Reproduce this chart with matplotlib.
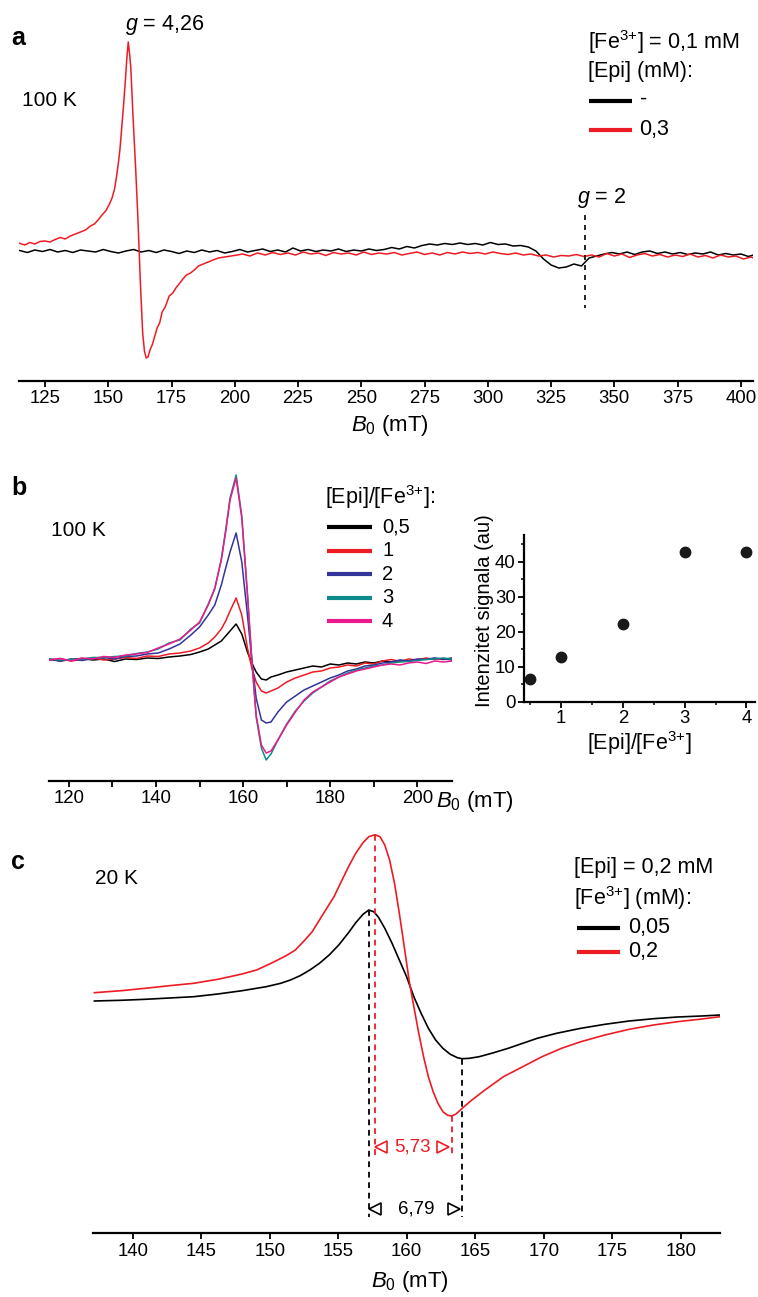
import matplotlib
matplotlib.use("Agg")
import matplotlib.pyplot as plt
from matplotlib.lines import Line2D
from matplotlib.ticker import MultipleLocator

plt.rcParams['font.family'] = ['Liberation Sans', 'DejaVu Sans']
plt.rcParams['mathtext.fontset'] = 'custom'
plt.rcParams['mathtext.rm'] = 'Liberation Sans'
plt.rcParams['mathtext.it'] = 'Liberation Sans:italic'
plt.rcParams['mathtext.bf'] = 'Liberation Sans:bold'

W, H = 758, 1297
RED = '#ed1c24'
BLUE = '#33349a'
TEAL = '#0e8a8c'
MAGENTA = '#ec1a8c'
FE3 = r'[Fe$^{3{+}}$]'

# ---------------- panel a : 100 K, [Fe3+] = 0,1 mM ----------------
field_a_black = [115, 118, 121, 124, 127, 130, 133, 136, 139, 142, 145, 148, 151, 154, 157, 160,
                 163, 166, 169, 172, 175, 178, 181, 184, 187, 190, 193, 196, 199, 202, 205, 208,
                 211, 214, 217, 220, 223, 226, 229, 232, 235, 238, 241, 244, 247, 250, 253, 256,
                 259, 262, 265, 268, 271, 274, 277, 280, 283, 286, 289, 292, 295, 298, 301, 304,
                 307, 310, 313, 316, 319, 322, 325, 328, 331, 334, 337, 340, 343, 346, 349, 352,
                 355, 358, 361, 364, 367, 370, 373, 376, 379, 382, 385, 388, 391, 394, 397, 400,
                 403, 405]
signal_a_black = [0.5, -1.5, 1, -0.5, 1.5, -1, 0.5, -1.5, 1, 0, -1, 1.5, -0.5, -2, 0, 1.5,
                  -1, 0.5, -1.5, 1, -0.5, -2.5, 0, -1.5, 1, -1, 0.5, -2, -0.5, 1.5, -1, 0.5,
                  2, -0.5, 1, -1, 3, 0, 1.5, -0.5, 1, 0, 2, -0.5, 1, 0, 2, 0.5,
                  1.5, 3.5, 2, 4.5, 3, 5.5, 7, 6, 7.5, 6.5, 8, 6.5, 7.5, 6, 8.5, 6.5,
                  7, 5, 5.5, 4, 0, -8, -14, -17, -16, -13, -15, -7, -5, -3, -1.5, -3,
                  -1, -3.5, -1, 0, -2.5, -1, -3, -1.5, -3.5, -2, -3, -1, -4, -2.5, -4, -3,
                  -5.5, -4]

field_a_red = [115, 117, 119, 121, 123, 125, 127, 129, 131, 133, 135, 137, 139, 141, 143, 144.5,
               146, 147.5, 149, 150.5, 151.5, 152.5, 153.3, 154, 154.6, 155.3, 156, 156.7, 157.3,
               157.9, 158.4, 158.9, 159.8, 160.8, 161.7, 162.7, 163.6, 164.3, 165.0, 165.7, 166.5,
               167.5, 168.4, 169.3, 170.3, 171.3, 172.5, 174.1, 175.5, 177, 178, 179.5, 180.9,
               182.5, 184, 185.6, 187.5, 189.5, 191.4, 193.5, 196, 198.5, 201,
               203, 206, 209, 212, 215, 218, 221, 224, 227, 230, 233, 236, 239, 242, 245, 248,
               251, 254, 257, 260, 263, 266, 269, 272, 275, 278, 281, 284, 287, 290, 293, 296,
               299, 302, 305, 308, 311, 314, 317, 320, 323, 326, 329, 332, 335, 338, 341, 344,
               347, 350, 353, 356, 359, 362, 365, 368, 371, 374, 377, 380, 383, 386, 389, 392,
               395, 398, 401, 404, 405]
signal_a_red = [7.7, 6, 8.5, 7, 9.5, 10, 9, 11.5, 13.5, 12, 15, 17, 19, 21, 25, 27,
                31, 36, 40, 47, 53, 62, 75, 88, 101, 122, 144, 168, 191,
                209, 198, 184, 134, 84, 34, -32, -82, -100, -107, -106, -99,
                -93, -85, -77, -72, -61, -56, -45, -42, -36, -33, -28, -24,
                -22, -19, -15, -13, -11, -9, -7, -6, -5, -4,
                -3, -5, -2, -4, -1.5, -3.5, -2, -4, -1, -3, -2, -4.5, -1.5, -3, -2, -4,
                -1, -3.5, -2, -3, -1.5, -4, -2.5, -1, -3.5, -2, -4, -1.5, -3, -1, -2.5, -1.5,
                -3, -1, -2.5, -3.5, -2, -4, -3, -5, -4, -6, -4.5, -5, -3.5, -5.5, -4, -6,
                -2.5, -5, -3, -6.5, -4, -2.5, -5, -3.5, -6, -4, -5.5, -3, -6, -4.5, -7, -4,
                -6, -5, -8, -6, -7]
g2_field = 338.2

# ---------------- panel b : 100 K, [Epi]/[Fe3+] series ----------------
field_b = [115.5, 118, 120.5, 123, 125.5, 128, 130.5, 133, 135.5, 138,
           140.5, 143, 145.5, 148, 150, 152, 153.5, 155, 156, 157,
           158.4, 159.7, 161, 162, 163, 164.2, 165.3, 166.4, 168, 170,
           172, 174, 176, 178, 180, 182, 184, 186, 188, 190,
           192, 194, 196, 198, 200, 202, 204, 206, 208]
ratio_labels = ['0,5', '1', '2', '3', '4']
signal_b = {
    '0,5': [1, -1, 0.5, 1.5, 0, 1, -1.5, 1, 0.5, 2,
            1.5, 3, 4, 5.5, 8, 11, 15, 19, 24, 29,
            36, 26, 8, -3, -12, -19, -20, -17, -15, -12,
            -10, -8, -6, -7, -4, -5, -3, -4, -2, -3,
            -1, -2, -0.5, -1, 0.5, 1, 1.5, 0.5, 2],
    '1': [0, 1.5, -1, 0.5, 2, 0, 1, 2.5, 1.5, 4,
          3.5, 6, 7, 9, 12, 17, 23, 31, 39, 49,
          62, 45, 12, -8, -22, -31, -33, -31, -28, -22,
          -18, -15, -12, -11, -8, -7, -5, -6, -3, -4,
          -1, 0.5, -1.5, 1, 0, 2, 0.5, 1.5, 0],
    '2': [0.5, -1, 1, -0.5, 1.5, 2.5, 1, 3.5, 4, 6,
          7, 11, 16, 25, 33, 45, 55, 75, 92, 108,
          127, 98, 45, 0, -38, -60, -63, -62, -52, -42,
          -36, -30, -26, -22, -18, -15, -11, -9, -6, -5,
          -3, -2, 0, -1, 1, 0.5, 2, 1, 0.5],
    '3': [1, 0, 0.5, 1, 2.5, 2.5, 3.5, 4, 6.5, 8,
          11, 17, 20, 31, 37, 56, 71, 101, 130, 162,
          185, 144, 66, 0, -57, -88, -100, -94, -80, -64,
          -51, -41, -33, -27, -21, -17, -13, -10, -8, -6,
          -5, -3, -2, -1.5, -0.5, 0.5, 1, 2, 1],
    '4': [0, 1.5, -1, 2, 1, 3.5, 2.5, 5, 6, 7.5,
          12, 16, 21, 30, 38, 55, 72, 100, 128, 160,
          182, 142, 65, 0, -55, -85, -93, -91, -80, -65,
          -52, -40, -32, -27, -22, -17, -14, -11, -9, -7,
          -5, -4, -5, -3, -2, -3.5, -1, -2, -1],
}
ratio_colors = ['black', RED, BLUE, TEAL, MAGENTA]

# inset: signal intensity vs ratio
ratio = [0.5, 1, 2, 3, 4]
intensity = [6.5, 12.9, 22.2, 42.8, 42.8]

# ---------------- panel c : 20 K, [Epi] = 0,2 mM ----------------
field_c_black = [137.2, 139.15, 140.91, 142.68, 144.45, 146.21, 147.98, 149.74, 150.8, 151.51,
                 152.22, 152.93, 153.63, 154.34, 155.04, 155.75, 156.28, 156.81, 157.23, 157.59,
                 157.94, 158.4, 158.93, 159.46, 159.99, 160.52, 161.05, 161.58, 162.11, 162.64,
                 163.18, 163.7, 164.05, 164.58, 165.29, 166.35, 167.41, 168.47, 169.53, 170.94,
                 172.71, 174.47, 176.24, 178.01, 179.77, 181.54, 182.88]
signal_c_black = [-1, -0.3, 0.7, 2, 3.3, 6, 9.3, 13.3, 16.7, 20,
                  24.3, 30, 36.7, 45, 55, 67.3, 77.3, 85.7, 90, 88.3,
                  82.7, 71.7, 56.7, 40, 23.3, 3.3, -13.3, -28.3, -40, -48.3,
                  -54.3, -57.7, -58.7, -58.3, -56.7, -52.7, -48.3, -43.3, -38.3, -33.3,
                  -28.3, -24.3, -21, -18.7, -17, -16, -15]
field_c_red = [137.2, 139.15, 140.91, 142.68, 144.45, 146.21, 147.98, 149.04, 150.1, 151.16,
               151.87, 152.57, 153.1, 153.63, 154.16, 154.69, 155.22, 155.75, 156.28, 156.81,
               157.23, 157.69, 158.05, 158.4, 158.75, 159.11, 159.46, 159.82, 160.17, 160.52,
               160.88, 161.23, 161.58, 161.93, 162.28, 162.64, 162.99, 163.28, 163.6, 164.05,
               164.76, 165.64, 167.06, 168.47, 169.88, 171.3, 172.71, 174.47, 176.24, 178.01,
               179.77, 181.54, 182.88]
signal_c_red = [7.3, 9.3, 11.7, 14.3, 16.7, 20.7, 26, 30, 36.7, 44,
                50, 60, 68.3, 80, 91.7, 103.3, 118.3, 133.3, 146.7, 157.3,
                163.3, 165.3, 163.3, 155, 140, 116.7, 86.7, 53.3, 20, -6.7,
                -33.3, -56.7, -76.7, -91.7, -103.3, -111.7, -115.3, -116, -114, -108.3,
                -100, -90.7, -76.7, -66.7, -56.7, -48.3, -41.7, -35, -29.3, -25,
                -21.7, -19, -16.7]
peaks_black = (157.27, 164.06, 90, -58.7)   # field of max, field of min, max, min
peaks_red = (157.69, 163.28, 165.3, -116)
width_black = '6,79'
width_red = '5,73'


def fig_xy(x, y):
    return x / W, 1 - y / H


def add_axes_px(fig, x0, y0, x1, y1):
    return fig.add_axes([x0 / W, 1 - y1 / H, (x1 - x0) / W, (y1 - y0) / H])


def spectrum_axis(ax):
    for side in ('left', 'right', 'top'):
        ax.spines[side].set_visible(False)
    ax.spines['bottom'].set_linewidth(1.6)
    ax.set_yticks([])
    ax.tick_params(axis='x', which='both', direction='out', length=4, width=1.3,
                   labelsize=13.4, pad=3)
    ax.patch.set_alpha(0)


def label(fig, x, y, s, size=15, **kw):
    kw.setdefault('ha', 'left')
    kw.setdefault('va', 'center')
    fig.text(*fig_xy(x, y), s, fontsize=size, **kw)


def legend_line(fig, x0, x1, y, color):
    fig.add_artist(Line2D([x0 / W, x1 / W], [1 - y / H] * 2, color=color, lw=3,
                          solid_capstyle='butt'))


fig = plt.figure(figsize=(W / 100, H / 100), dpi=100)

# panel a
ax_a = add_axes_px(fig, 19.3, 25, 753.3, 380.7)
ax_a.plot(field_a_black, signal_a_black, color='black', lw=1.1)
ax_a.plot(field_a_red, signal_a_red, color=RED, lw=1.1)
ax_a.plot([g2_field, g2_field], [36, -57], color='black', lw=1.2, ls=(0, (3, 3)))
ax_a.set_xlim(114.85, 404.9)
ax_a.set_ylim(-129.7, 226)
ax_a.set_xticks([125, 150, 175, 200, 225, 250, 275, 300, 325, 350, 375, 400])
spectrum_axis(ax_a)

label(fig, 11, 38, 'a', size=18, weight='bold')
label(fig, 125, 25, r'$g$ = 4,26', size=15.5)
label(fig, 22, 100, '100 K')
label(fig, 577, 198, r'$g$ = 2', size=15.5)
label(fig, 588, 42, FE3 + ' = 0,1 mM', size=15.5)
label(fig, 588, 72, '[Epi] (mM):', size=15.5)
legend_line(fig, 589, 632, 101, 'black')
label(fig, 640, 99, '-', size=15.5)
legend_line(fig, 589, 632, 130, RED)
label(fig, 639, 130, '0,3', size=15.5)
label(fig, 390, 425, r'$B_0$ (mT)', size=16, ha='center')

# panel b
ax_b = add_axes_px(fig, 49.3, 465, 451.7, 780.7)
for name, color in zip(ratio_labels, ratio_colors):
    ax_b.plot(field_b, signal_b[name], color=color, lw=1.1)
ax_b.set_xlim(115.5, 207.9)
ax_b.set_ylim(-120.7, 195)
ax_b.set_xticks([120, 140, 160, 180, 200])
ax_b.xaxis.set_minor_locator(MultipleLocator(10))
spectrum_axis(ax_b)

label(fig, 11, 488, 'b', size=18, weight='bold')
label(fig, 51, 531, '100 K')
label(fig, 325, 497, '[Epi]/' + FE3 + ':', size=15.5)
for i, (name, color) in enumerate(zip(ratio_labels, ratio_colors)):
    y = 527 + i * 23.6
    legend_line(fig, 327, 372, y, color)
    label(fig, 382, y, name, size=14.5)
label(fig, 436, 802, r'$B_0$ (mT)', size=16)

ax_in = add_axes_px(fig, 524.2, 535, 755, 701.7)
ax_in.plot(ratio, intensity, 'o', color='#1a1a1a', ms=7.5, clip_on=False)
ax_in.set_xlim(0.4, 4.14)
ax_in.set_ylim(0, 47.6)
ax_in.set_xticks([1, 2, 3, 4])
ax_in.set_yticks([0, 10, 20, 30, 40])
ax_in.xaxis.set_minor_locator(MultipleLocator(0.5))
ax_in.yaxis.set_minor_locator(MultipleLocator(5))
for side in ('right', 'top'):
    ax_in.spines[side].set_visible(False)
for side in ('left', 'bottom'):
    ax_in.spines[side].set_linewidth(1.6)
ax_in.tick_params(which='major', direction='out', length=4, width=1.3, labelsize=13.4, pad=2)
ax_in.tick_params(which='minor', direction='out', length=2.5, width=1.1)
ax_in.patch.set_alpha(0)
label(fig, 485, 611, 'Intenzitet signala (au)', size=14.5, rotation=90, ha='center')
label(fig, 639, 743, '[Epi]/' + FE3, size=15.5, ha='center')

# panel c
ax_c = add_axes_px(fig, 93.3, 825, 720, 1233.3)
ax_c.plot(field_c_black, signal_c_black, color='black', lw=1.2)
ax_c.plot(field_c_red, signal_c_red, color=RED, lw=1.2)
dash = (0, (3.2, 2.6))
bx_max, bx_min, by_max, by_min = peaks_black
rx_max, rx_min, ry_max, ry_min = peaks_red
ax_c.plot([bx_max, bx_max], [by_max, -216.7], color='black', lw=1.3, ls=dash)
ax_c.plot([bx_min, bx_min], [by_min, -216.7], color='black', lw=1.3, ls=dash)
ax_c.plot([rx_max, rx_max], [ry_max, -156], color=RED, lw=1.3, ls=dash)
ax_c.plot([rx_min, rx_min], [ry_min, -156], color=RED, lw=1.3, ls=dash)
ax_c.plot([rx_max + 0.42], [-147], marker='<', ms=8, mfc='none', mec=RED, mew=1.2)
ax_c.plot([rx_min - 0.62], [-147], marker='>', ms=8, mfc='none', mec=RED, mew=1.2)
ax_c.plot([bx_max + 0.45], [-209], marker='<', ms=8, mfc='none', mec='black', mew=1.2)
ax_c.plot([bx_min - 0.6], [-209], marker='>', ms=8, mfc='none', mec='black', mew=1.2)
ax_c.text((rx_max + rx_min) / 2 - 0.1, -147, width_red, color=RED, fontsize=13.5,
          ha='center', va='center')
ax_c.text((bx_max + bx_min) / 2 + 0.05, -209, width_black, color='black', fontsize=13.5,
          ha='center', va='center')
ax_c.set_xlim(137.12, 182.87)
ax_c.set_ylim(-233.3, 175)
ax_c.set_xticks([140, 145, 150, 155, 160, 165, 170, 175, 180])
spectrum_axis(ax_c)

label(fig, 11, 862, 'c', size=18, weight='bold')
label(fig, 95, 878, '20 K')
label(fig, 574, 868, '[Epi] = 0,2 mM', size=15.5)
label(fig, 574, 898, FE3 + ' (mM):', size=15.5)
legend_line(fig, 577, 620, 928, 'black')
label(fig, 628, 928, '0,05', size=15.5)
legend_line(fig, 577, 620, 952, RED)
label(fig, 628, 952, '0,2', size=15.5)
label(fig, 410, 1281, r'$B_0$ (mT)', size=16, ha='center')

fig.savefig('out.png', dpi=100)
